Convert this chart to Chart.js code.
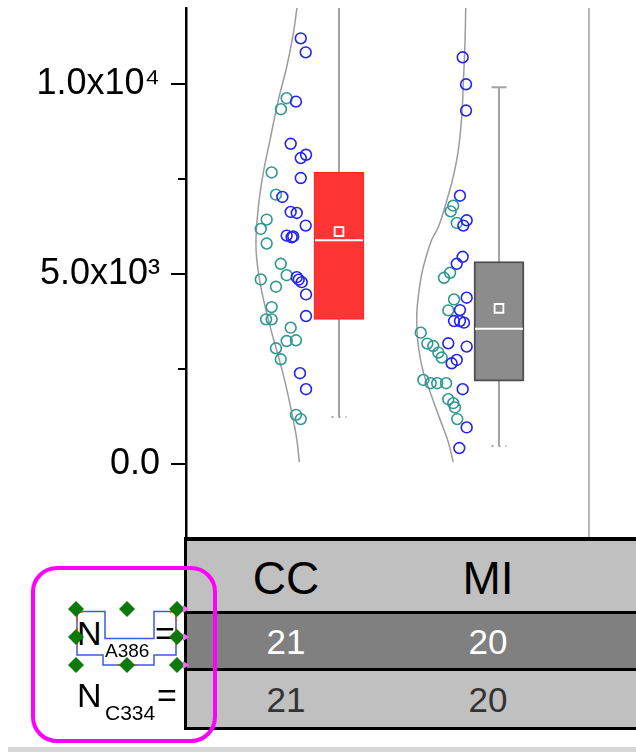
<!DOCTYPE html>
<html>
<head>
<meta charset="utf-8">
<title>CC / MI</title>
<script src="https://cdn.jsdelivr.net/npm/chart.js@4.4.1/dist/chart.umd.min.js"></script>
<style>
  html, body { margin: 0; padding: 0; background: #fff; }
  body { position: relative; width: 636px; height: 752px; overflow: hidden;
         font-family: 'Liberation Sans', Arial, sans-serif; }
  #plot { position: absolute; left: 0; top: 0; }
  .abs { position: absolute; }
  .cell { position: absolute; width: 120px; text-align: center; line-height: 1; white-space: nowrap; }
  .lbl { position: absolute; line-height: 1; white-space: nowrap; color: #000; }
  #marks { position: absolute; left: 0; top: 0; pointer-events: none; }
</style>
</head>
<body>
<canvas id="plot" width="636" height="540"></canvas>
<div id="table"></div>
<div id="rowlabels"></div>
<svg id="marks" width="636" height="752"></svg>
<script>
// ---- data ------------------------------------------------------------------
const GROUPS = ['CC', 'MI'];
const GROUP_X = [1, 2];

// A386 (blue) values and their jitter offset from the group centre
const CC_A386 = [11201, 10833, 9537, 8426, 8138, 8051, 7526, 7027, 6633, 6607, 6274,
                 6011, 5967, 4917, 4786, 4463, 3893, 2389, 1969, 5990, 4850];
const CC_A386_OFF = [-0.239, -0.208, -0.269, -0.302, -0.206, -0.239, -0.239, -0.354, -0.302, -0.264, -0.208,
                     -0.327, -0.296, -0.264, -0.233, -0.206, -0.206, -0.244, -0.206, -0.286, -0.252];
const MI_A386 = [10702, 9993, 9301, 7061, 6413, 6274, 5452, 5268, 4376, 4050,
                 3762, 3762, 3720, 3176, 3090, 2738, 2651, 1969, 963, 420];
const MI_A386_OFF = [-0.227, -0.206, -0.206, -0.244, -0.202, -0.223, -0.227, -0.264, -0.202, -0.244,
                     -0.281, -0.244, -0.219, -0.317, -0.202, -0.264, -0.296, -0.227, -0.202, -0.248];

// C334 (teal)
const CC_C334 = [9626, 9337, 7673, 7088, 6431, 6187, 5801, 5268, 4969, 4856, 4665,
                 4129, 3806, 3806, 3588, 3237, 3255, 3045, 2756, 1294, 1181];
const CC_C334_OFF = [-0.327, -0.363, -0.421, -0.394, -0.452, -0.489, -0.452, -0.364, -0.327, -0.489, -0.394,
                     -0.421, -0.456, -0.421, -0.302, -0.327, -0.269, -0.394, -0.364, -0.269, -0.239];
const MI_C334 = [6799, 6649, 6345, 5032, 4901, 4331, 4043, 3457, 3168, 3105,
                 2932, 2801, 2213, 2126, 2126, 2126, 1706, 1601, 1488, 1181];
const MI_C334_OFF = [-0.286, -0.302, -0.264, -0.306, -0.344, -0.281, -0.317, -0.489, -0.448, -0.411,
                     -0.379, -0.358, -0.473, -0.427, -0.386, -0.331, -0.317, -0.286, -0.275, -0.261];

// box statistics (CC, MI)
const BOX_Q1 = [3806, 2179];
const BOX_Q3 = [7673, 5329];
const BOX_MED = [5889, 3562];
const BOX_MEAN = [6116, 4095];
const WHISK_MIN = [1234, 473];
const WHISK_MAX = [12600, 9914];

// distribution curves (value, offset from group centre)
const CC_CURVE_V = [12000, 11340, 10448, 9581, 8531, 7665, 6773, 5906, 5381, 4778, 4148, 3465, 2835, 2153, 1365, 656, 53];
const CC_CURVE_OFF = [-0.263, -0.285, -0.327, -0.379, -0.431, -0.473, -0.504, -0.519, -0.514, -0.494, -0.462, -0.421, -0.379, -0.337, -0.296, -0.264, -0.248];
const MI_CURVE_V = [12000, 11078, 10028, 9135, 8269, 7560, 6956, 6248, 5906, 5460, 4935, 4148, 3728, 3098, 2415, 1785, 1181, 578, 53];
const MI_CURVE_OFF = [-0.208, -0.2125, -0.223, -0.233, -0.254, -0.286, -0.325, -0.378, -0.420, -0.455, -0.486, -0.511, -0.514, -0.504, -0.473, -0.421, -0.369, -0.317, -0.286];

const REF_LINE_X = 2.5625;

// y axis
const Y_TICKS = [0, 5000, 10000];
const Y_TICK_LABELS = ['0.0', '5.0x10\u00B3', '1.0x10\u2074'];
const Y_MINOR = [2500, 7500];

// table under the plot
const N_A386 = [21, 20];
const N_C334 = [21, 20];

// ---- styling -----------------------------------------------------------------
const FONT = "'Liberation Sans', Arial, sans-serif";
const BLUE = '#2323F2';
const TEAL = '#2E9990';
const BOX_FILL = ['#FF3434', '#8C8C8C'];
const BOX_EDGE = ['#FF2020', '#4E4E4E'];
const WHISKER = '#A3A3A3';
const CURVE = '#9C9C9C';
const BOX_HALF = 0.15;
const CAP_HALF = 0.047;

const pts = (vals, offs, gx) => vals.map((v, k) => ({ x: gx + offs[k], y: v }));

function pointSet(label, data, color) {
  return {
    type: 'scatter', label, data,
    borderColor: color, backgroundColor: 'rgba(0,0,0,0)',
    pointRadius: 5.4, pointBorderWidth: 1.6, pointHoverRadius: 5.4,
    order: 1,
  };
}

function lineSet(data, color, width, order, extra) {
  return Object.assign({
    type: 'line', data,
    borderColor: color, borderWidth: width,
    pointRadius: 0, pointHoverRadius: 0, fill: false, order,
  }, extra || {});
}

const datasets = [
  pointSet('CC A386', pts(CC_A386, CC_A386_OFF, GROUP_X[0]), BLUE),
  pointSet('CC C334', pts(CC_C334, CC_C334_OFF, GROUP_X[0]), TEAL),
  pointSet('MI A386', pts(MI_A386, MI_A386_OFF, GROUP_X[1]), BLUE),
  pointSet('MI C334', pts(MI_C334, MI_C334_OFF, GROUP_X[1]), TEAL),
  {
    type: 'scatter', label: 'mean',
    data: GROUP_X.map((x, i) => ({ x, y: BOX_MEAN[i] })),
    pointStyle: 'rect', pointRadius: 6.2, pointHoverRadius: 6.2,
    backgroundColor: BOX_FILL, borderColor: '#fff', pointBorderWidth: 1.8,
    order: 2,
  },
  {
    type: 'bar', label: 'box',
    data: GROUP_X.map((x, i) => ({ x, y: [BOX_Q1[i], BOX_Q3[i]] })),
    backgroundColor: BOX_FILL, borderColor: BOX_EDGE, borderWidth: [1, 2],
    borderSkipped: false, barThickness: 50, order: 4,
  },
];

GROUP_X.forEach((x, i) => {
  datasets.push(lineSet([{ x: x - BOX_HALF, y: BOX_MED[i] }, { x: x + BOX_HALF, y: BOX_MED[i] }], '#fff', 2, 3));
  datasets.push(lineSet([{ x, y: WHISK_MIN[i] }, { x, y: WHISK_MAX[i] }], WHISKER, 2, 6));
  datasets.push(lineSet([{ x: x - CAP_HALF, y: WHISK_MAX[i] }, { x: x + CAP_HALF, y: WHISK_MAX[i] }], WHISKER, 2, 5));
  datasets.push(lineSet([{ x: x - CAP_HALF, y: WHISK_MIN[i] }, { x: x + CAP_HALF, y: WHISK_MIN[i] }], WHISKER, 2, 5,
    { borderDash: [2, 5] }));
});

datasets.push(lineSet(pts(CC_CURVE_V, CC_CURVE_OFF, GROUP_X[0]), CURVE, 1.5, 7, { tension: 0.4 }));
datasets.push(lineSet(pts(MI_CURVE_V, MI_CURVE_OFF, GROUP_X[1]), CURVE, 1.5, 7, { tension: 0.4 }));
datasets.push(lineSet([{ x: REF_LINE_X, y: -2000 }, { x: REF_LINE_X, y: 12000 }], '#A0A0A0', 1.5, 8));

// short minor ticks on the left axis
const minorTicks = {
  id: 'minorTicks',
  afterDraw(chart) {
    const ys = chart.scales.y;
    const ctx = chart.ctx;
    ctx.save();
    ctx.strokeStyle = '#000';
    ctx.lineWidth = 2;
    Y_MINOR.forEach(v => {
      const py = Math.round(ys.getPixelForValue(v));
      ctx.beginPath();
      ctx.moveTo(ys.right - 8, py);
      ctx.lineTo(ys.right, py);
      ctx.stroke();
    });
    ctx.restore();
  },
};

new Chart(document.getElementById('plot'), {
  type: 'scatter',
  data: { datasets },
  options: {
    responsive: false,
    animation: false,
    events: [],
    layout: { autoPadding: false, padding: { top: 8, right: 0, bottom: 0, left: 0 } },
    plugins: { legend: { display: false }, tooltip: { enabled: false } },
    scales: {
      x: { type: 'linear', display: false, offset: false, min: 0.04375, max: 2.85625 },
      y: {
        min: -2000, max: 12000,
        afterBuildTicks: (s) => { s.ticks = Y_TICKS.map(v => ({ value: v })); },
        afterFit: (s) => { s.width = 186; s.paddingTop = 0; s.paddingBottom = 0; },
        border: { color: '#000', width: 2.5 },
        grid: { drawOnChartArea: false, color: '#000', lineWidth: 2, tickLength: 15 },
        ticks: {
          color: '#000', padding: 11,
          font: { family: FONT, size: 36 },
          callback: (v) => Y_TICK_LABELS[Y_TICKS.indexOf(v)],
        },
      },
    },
  },
  plugins: [minorTicks],
});

// ---- table ---------------------------------------------------------------------
const TABLE_COL_X = [286, 488];
const table = document.getElementById('table');
function rect(parent, l, t, w, h, bg) {
  const d = document.createElement('div');
  d.className = 'abs';
  Object.assign(d.style, { left: l + 'px', top: t + 'px', width: w + 'px', height: h + 'px', background: bg });
  parent.appendChild(d);
}
rect(table, 184, 541, 452, 70, '#C0C0C0');
rect(table, 184, 614, 452, 54, '#808080');
rect(table, 184, 671, 452, 56, '#C0C0C0');
[537, 611, 668, 727].forEach((y, i) => rect(table, 184, y, 452, i === 0 ? 4 : 3, '#000'));
rect(table, 184, 537, 3, 193, '#000');
rect(document.body, 8, 747, 628, 5, '#D6D6D6');

function cell(str, cx, top, size, color) {
  const d = document.createElement('div');
  d.className = 'cell';
  d.textContent = str;
  Object.assign(d.style, { left: (cx - 60) + 'px', top: top + 'px', fontSize: size + 'px', color });
  table.appendChild(d);
}
GROUPS.forEach((g, i) => {
  cell(g, TABLE_COL_X[i], 555, 46, '#000');
  cell(String(N_A386[i]), TABLE_COL_X[i], 624, 35, '#fff');
  cell(String(N_C334[i]), TABLE_COL_X[i], 682, 35, '#333');
});

// row labels N_A386= / N_C334=
const rowlabels = document.getElementById('rowlabels');
function lbl(str, l, t, size) {
  const s = document.createElement('div');
  s.className = 'lbl';
  s.textContent = str;
  Object.assign(s.style, { left: l + 'px', top: t + 'px', fontSize: size + 'px' });
  rowlabels.appendChild(s);
}
lbl('N', 77, 616, 34); lbl('A386', 105, 641, 19); lbl('=', 155, 616, 34);
lbl('N', 77, 678, 34); lbl('C334', 105, 702, 21); lbl('=', 157, 678, 34);

// selection marks around the first row label
const svg = document.getElementById('marks');
const NS = 'http://www.w3.org/2000/svg';
function el(tag, attrs) {
  const e = document.createElementNS(NS, tag);
  Object.entries(attrs).forEach(([k, v]) => e.setAttribute(k, v));
  svg.appendChild(e);
}
el('path', { d: 'M77,611.5 L105,611.5 L105,638.5 L154,638.5 L154,611.5 L176,611.5 L176,655 L154,655 L154,665 L103,665 L103,655 L77,655 Z',
  fill: 'none', stroke: '#3A5BE0', 'stroke-width': 1.5 });
[[77, 612, 77, 622], [77, 612, 83, 612], [176, 612, 176, 622], [176, 612, 170, 612],
 [77, 627, 77, 645], [176, 627, 176, 645], [117, 665, 137, 665]].forEach(([x1, y1, x2, y2]) =>
  el('line', { x1, y1, x2, y2, stroke: '#E0501A', 'stroke-width': 1.5 }));
[[76, 609], [127, 609], [177, 609], [76, 637], [177, 637], [76, 665], [127, 665], [177, 665]].forEach(([cx, cy]) =>
  el('polygon', { points: `${cx},${cy - 8} ${cx + 8},${cy} ${cx},${cy + 8} ${cx - 8},${cy}`, fill: '#0B7A0B' }));
[609, 637, 665].forEach(cy =>
  el('polygon', { points: `183,${cy - 4} 189,${cy} 183,${cy + 4}`, fill: '#FF66FF' }));
el('rect', { x: 33, y: 568, width: 182, height: 173, rx: 24, ry: 24, fill: 'none', stroke: '#FF00FF', 'stroke-width': 4 });
</script>
</body>
</html>
